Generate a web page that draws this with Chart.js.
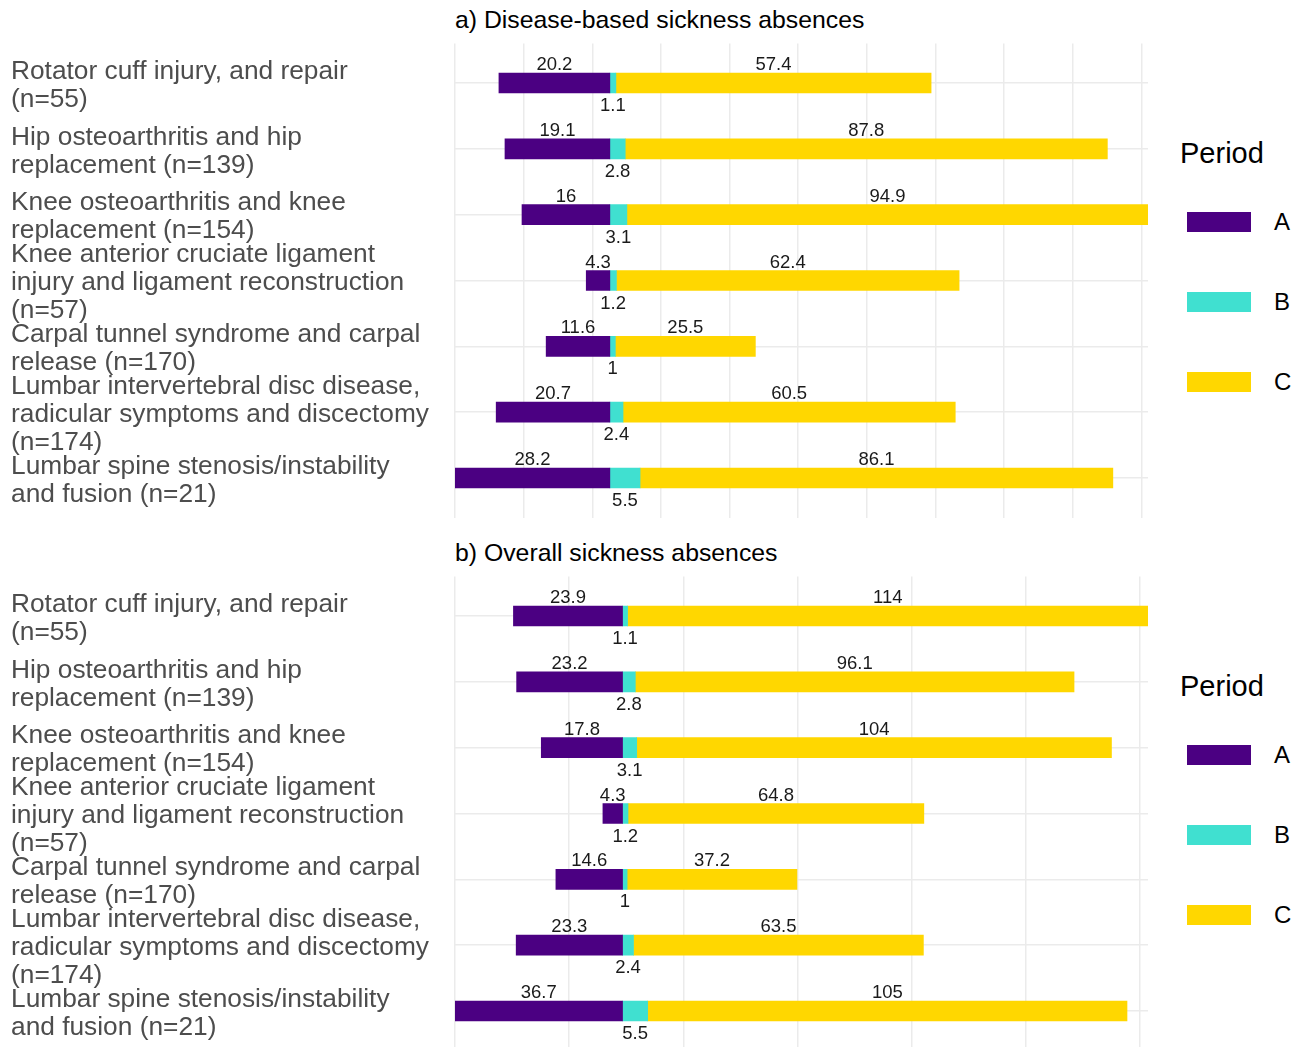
<!DOCTYPE html>
<html>
<head>
<meta charset="utf-8">
<script src="https://cdn.jsdelivr.net/npm/chart.js@4.4.0/dist/chart.umd.min.js"></script>
<style>
  body { margin: 0; background: #fff; width: 1304px; height: 1047px; overflow: hidden; position: relative;
         font-family: "Liberation Sans", Arial, sans-serif; }
  .panel { position: absolute; left: 0; width: 1304px; height: 533px; }
  .panel canvas { position: absolute; left: 0; top: 0; }
  .ptitle { position: absolute; left: 455px; top: 6px; font-size: 24.8px; line-height: 28px; color: #000; white-space: nowrap; }
  .ltitle { position: absolute; left: 1180px; top: 136px; font-size: 29px; line-height: 34px; color: #000; }
  .lkey { position: absolute; left: 1187px; width: 64px; height: 20px; }
  .llab { position: absolute; left: 1274px; font-size: 24px; line-height: 28px; color: #000; }
</style>
</head>
<body>
<div class="panel" id="panelA" style="top:0px"></div>
<div class="panel" id="panelB" style="top:533px"></div>
<script>
// categories (wrapped the way the picture wraps them)
var categories = [
  ['Rotator cuff injury, and repair', '(n=55)'],
  ['Hip osteoarthritis and hip', 'replacement (n=139)'],
  ['Knee osteoarthritis and knee', 'replacement (n=154)'],
  ['Knee anterior cruciate ligament', 'injury and ligament reconstruction', '(n=57)'],
  ['Carpal tunnel syndrome and carpal', 'release (n=170)'],
  ['Lumbar intervertebral disc disease,', 'radicular symptoms and discectomy', '(n=174)'],
  ['Lumbar spine stenosis/instability', 'and fusion (n=21)']
];
var periods = ['A', 'B', 'C'];
var periodColors = ['#4B0082', '#40E0D0', '#FFD700'];

// a) Disease-based sickness absences
var diseaseA = [20.2, 19.1, 16, 4.3, 11.6, 20.7, 28.2];
var diseaseB = [1.1, 2.8, 3.1, 1.2, 1, 2.4, 5.5];
var diseaseC = [57.4, 87.8, 94.9, 62.4, 25.5, 60.5, 86.1];

// b) Overall sickness absences
var overallA = [23.9, 23.2, 17.8, 4.3, 14.6, 23.3, 36.7];
var overallB = [1.1, 2.8, 3.1, 1.2, 1, 2.4, 5.5];
var overallC = [114, 96.1, 104, 64.8, 37.2, 63.5, 105];

var FONT = '"Liberation Sans", Arial, sans-serif';

var valueLabels = {
  id: 'valueLabels',
  afterDatasetsDraw: function(chart) {
    var ctx = chart.ctx;
    ctx.save();
    ctx.font = '18.5px ' + FONT;
    ctx.fillStyle = '#1a1a1a';
    ctx.textAlign = 'center';
    ctx.textBaseline = 'middle';
    chart.data.datasets.forEach(function(ds, i) {
      chart.getDatasetMeta(i).data.forEach(function(bar, j) {
        var p = bar.getProps(['x', 'base', 'y', 'height'], true);
        var cx = (p.x + p.base) / 2;
        var cy = ds.labelBelow ? p.y + p.height / 2 + 13 : p.y - p.height / 2 - 8;
        ctx.fillText(String(Math.abs(ds.data[j].x)), cx, cy);
      });
    });
    ctx.restore();
  }
};

function makePanel(id, title, a, b, c, gridStep) {
  var holder = document.getElementById(id);
  var t = document.createElement('div');
  t.className = 'ptitle';
  t.textContent = title;
  holder.appendChild(t);

  var lt = document.createElement('div');
  lt.className = 'ltitle';
  lt.textContent = 'Period';
  holder.appendChild(lt);
  periods.forEach(function(p, k) {
    var key = document.createElement('div');
    key.className = 'lkey';
    key.style.top = (212 + 80 * k) + 'px';
    key.style.background = periodColors[k];
    holder.appendChild(key);
    var lab = document.createElement('div');
    lab.className = 'llab';
    lab.style.top = (208 + 80 * k) + 'px';
    lab.textContent = p;
    holder.appendChild(lab);
  });

  var cv = document.createElement('canvas');
  cv.width = 1304; cv.height = 533;
  holder.appendChild(cv);

  var maxA = Math.max.apply(null, a);
  var maxRight = Math.max.apply(null, b.map(function(v, i) { return v + c[i]; }));

  function pts(arr, sign) {
    return arr.map(function(v, i) { return { x: sign * v, y: i }; });
  }

  new Chart(cv.getContext('2d'), {
    type: 'bar',
    data: {
      datasets: [
        { label: 'A', data: pts(a, -1), backgroundColor: periodColors[0] },
        { label: 'B', data: pts(b, 1), backgroundColor: periodColors[1], labelBelow: true },
        { label: 'C', data: pts(c, 1), backgroundColor: periodColors[2] }
      ]
    },
    options: {
      indexAxis: 'y',
      responsive: false,
      animation: false,
      barThickness: 20,
      layout: { padding: { left: 11, right: 156, top: 43.5, bottom: 15.5 } },
      plugins: { legend: { display: false }, tooltip: { enabled: false } },
      scales: {
        x: {
          type: 'linear', stacked: true, min: -maxA, max: maxRight, offset: false,
          afterBuildTicks: function(scale) {
            var ticks = [];
            for (var k = 0; scale.min + k * gridStep <= scale.max + 1e-9; k++) {
              ticks.push({ value: scale.min + k * gridStep });
            }
            scale.ticks = ticks;
          },
          afterFit: function(scale) { scale.height = 0; scale.paddingLeft = 0; scale.paddingRight = 0; },
          ticks: { display: false },
          grid: { color: '#ebebeb', lineWidth: 1.5, drawTicks: false, offset: false },
          border: { display: false }
        },
        y: {
          type: 'linear', stacked: true, reverse: true, offset: false,
          min: -0.6, max: categories.length - 0.4,
          afterBuildTicks: function(scale) {
            scale.ticks = categories.map(function(cat, i) { return { value: i }; });
          },
          afterFit: function(scale) { scale.width = 444; scale.paddingTop = 0; scale.paddingBottom = 0; },
          ticks: {
            autoSkip: false,
            crossAlign: 'far',
            padding: 0,
            labelOffset: 2.5,
            color: '#4d4d4d',
            font: { family: FONT, size: 26.3, lineHeight: 1.065 },
            callback: function(v) { return categories[v]; }
          },
          grid: { color: '#ebebeb', lineWidth: 1.5, drawTicks: false, offset: false },
          border: { display: false }
        }
      }
    },
    plugins: [valueLabels]
  });
}

makePanel('panelA', 'a) Disease-based sickness absences', diseaseA, diseaseB, diseaseC, 12.5);
makePanel('panelB', 'b) Overall sickness absences', overallA, overallB, overallC, 25);
</script>
</body>
</html>
